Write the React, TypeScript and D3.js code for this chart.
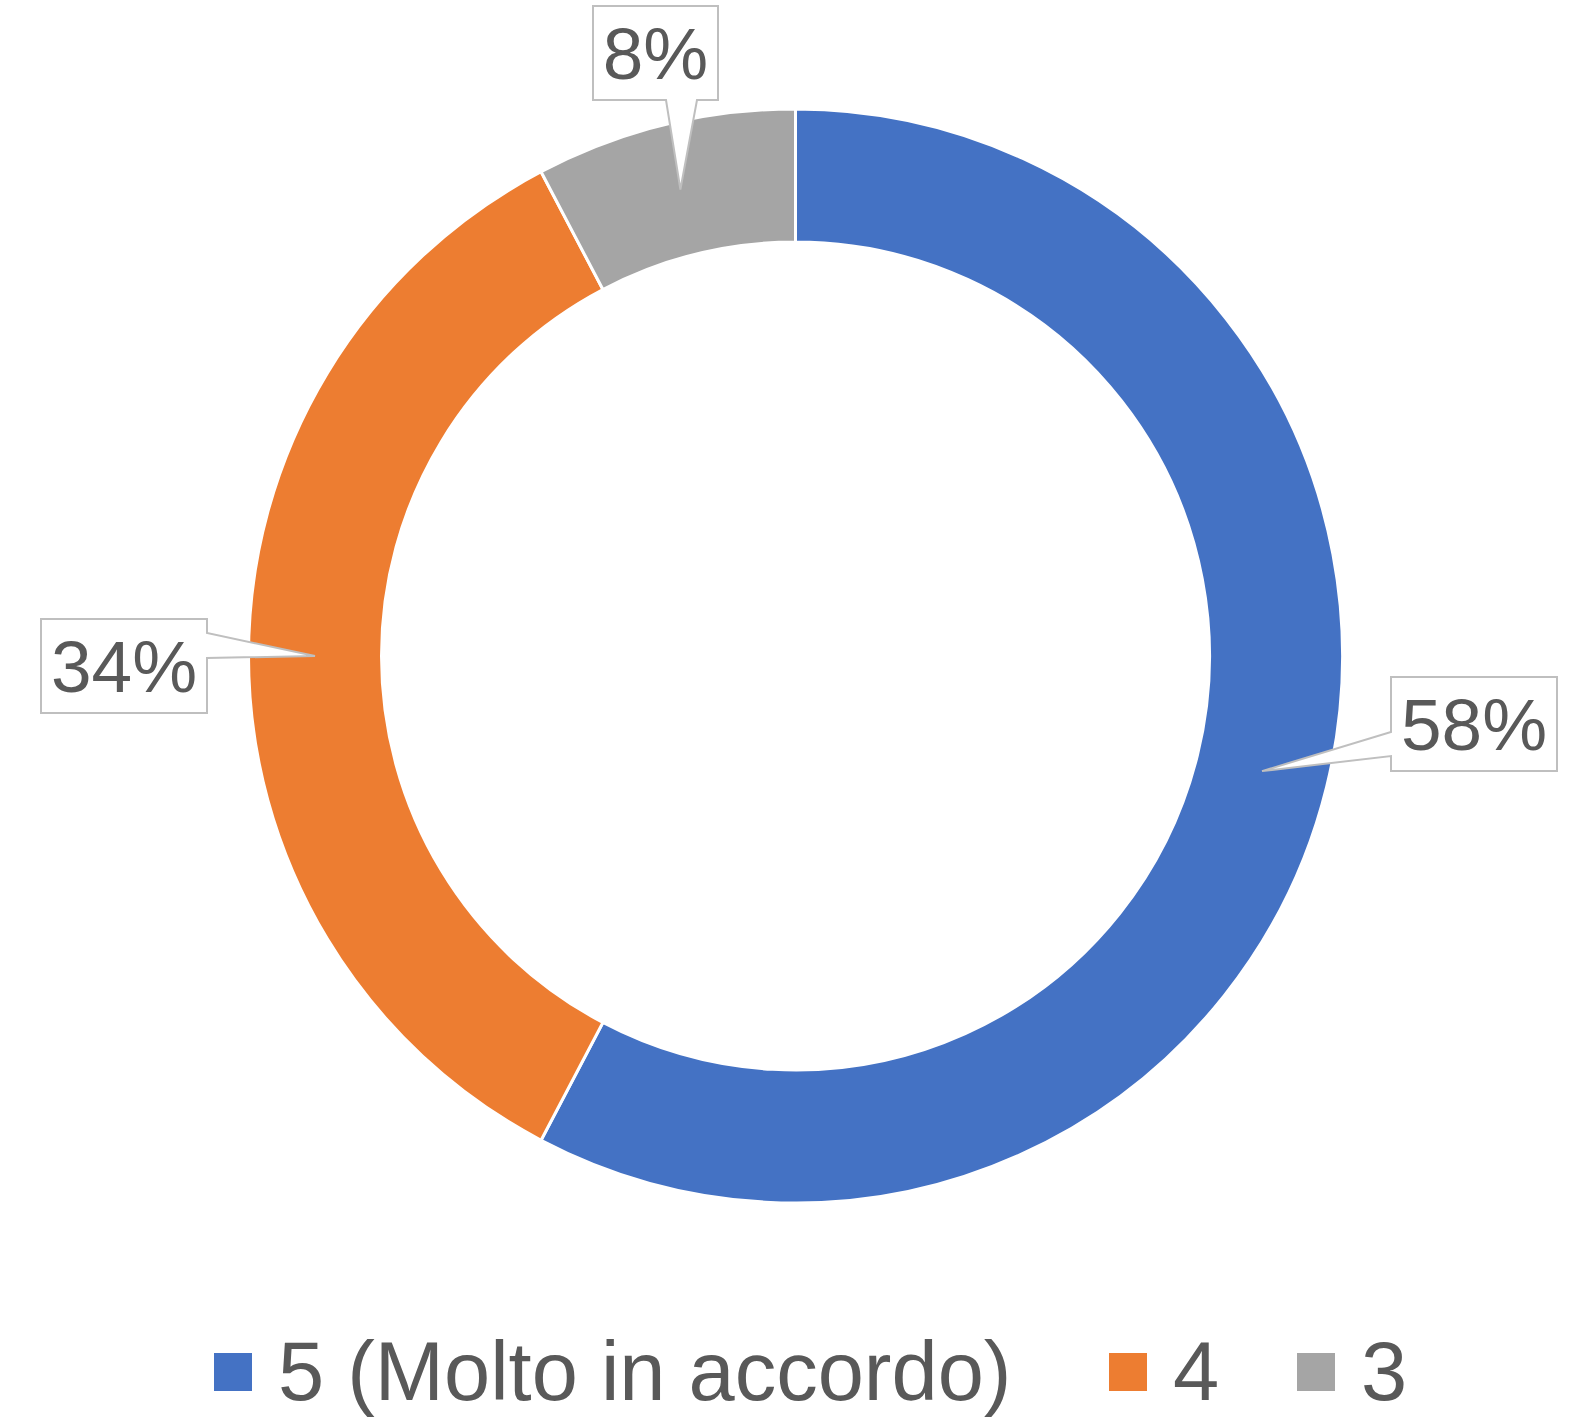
import * as d3 from "d3";

const categories = ["5 (Molto in accordo)", "4", "3"];
// slice sizes
const shares = [57.7, 34.6, 7.7];
const shareLabels = ["58%", "34%", "8%"];
const colors = ["#4472C4", "#ED7D31", "#A5A5A5"];

const width = 1584;
const height = 1418;
const cx = 795.5;
const cy = 656;
const outerR = 547;
const innerR = 414;

// callout boxes (label placement only, tips come from the arcs)
const callouts = [
  { x: 1391, y: 677, w: 166, h: 94, side: "left", b0: 732, b1: 756 },
  { x: 41, y: 619, w: 166, h: 94, side: "right", b0: 633, b1: 658 },
  { x: 593, y: 6, w: 125, h: 94, side: "bottom", b0: 666, b1: 697 },
];

const legendX = [214, 1109, 1297];

const App: React.FC = () => {
  const pie = d3
    .pie<number>()
    .sort(null)
    .value((d) => d);
  const arcs = pie(shares);

  const arc = d3
    .arc<d3.PieArcDatum<number>>()
    .innerRadius(innerR)
    .outerRadius(outerR);

  const midArc = d3
    .arc<d3.PieArcDatum<number>>()
    .innerRadius((innerR + outerR) / 2)
    .outerRadius((innerR + outerR) / 2);

  const calloutPath = (i: number) => {
    const c = callouts[i];
    const [tx, ty] = midArc.centroid(arcs[i]);
    const tipX = tx + cx;
    const tipY = ty + cy;
    const L = c.x, R = c.x + c.w, T = c.y, B = c.y + c.h;
    if (c.side === "left") {
      return `M${L},${T}H${R}V${B}H${L}V${c.b1}L${tipX},${tipY}L${L},${c.b0}Z`;
    }
    if (c.side === "right") {
      return `M${L},${T}H${R}V${c.b0}L${tipX},${tipY}L${R},${c.b1}V${B}H${L}Z`;
    }
    return `M${L},${T}H${R}V${B}H${c.b1}L${tipX},${tipY}L${c.b0},${B}H${L}Z`;
  };

  return (
    <svg
      width={width}
      height={height}
      style={{ position: "absolute", left: 0, top: 0, background: "#fff" }}
      fontFamily="'Liberation Sans', Arial, sans-serif"
    >
      <g transform={`translate(${cx},${cy})`}>
        {arcs.map((a, i) => (
          <path
            key={categories[i]}
            d={arc(a) as string}
            fill={colors[i]}
            stroke="#fff"
            strokeWidth={3}
          />
        ))}
      </g>
      {arcs.map((a, i) => {
        const c = callouts[i];
        return (
          <g key={"lab" + i}>
            <path
              d={calloutPath(i)}
              fill="#fff"
              stroke="#BFBFBF"
              strokeWidth={2}
            />
            <text
              x={c.x + c.w / 2}
              y={c.y + c.h / 2 + 26}
              textAnchor="middle"
              fontSize={73}
              fill="#595959"
            >
              {shareLabels[i]}
            </text>
          </g>
        );
      })}
      {categories.map((name, i) => (
        <g key={"leg" + name} transform={`translate(${legendX[i]},0)`}>
          <rect x={0} y={1353} width={38} height={38} fill={colors[i]} />
          <text x={64} y={1400} fontSize={83} fill="#595959">
            {name}
          </text>
        </g>
      ))}
    </svg>
  );
};

export default App;
